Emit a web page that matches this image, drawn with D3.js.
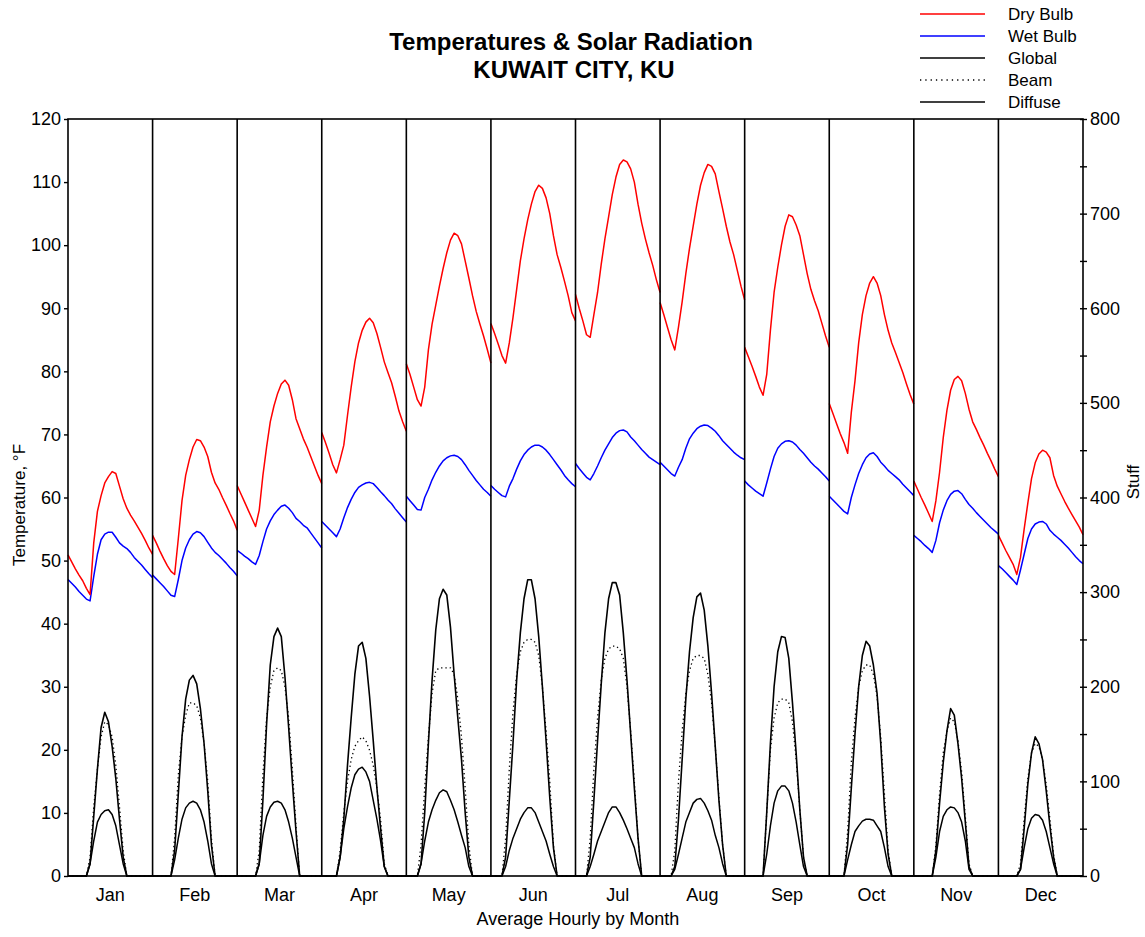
<!DOCTYPE html>
<html>
<head>
<meta charset="utf-8">
<script src="https://cdn.jsdelivr.net/npm/d3@7"></script>
<style>
  body { margin: 0; background: #fff; }
  text { font-family: "Liberation Sans", Arial, sans-serif; fill: #000; }
</style>
</head>
<body>
<svg id="chart" width="1145" height="937"></svg>
<script>
// Hourly averages (24 values per month, hour 1..24)
const months = ["Jan","Feb","Mar","Apr","May","Jun","Jul","Aug","Sep","Oct","Nov","Dec"];
const tempTicks = [0,10,20,30,40,50,60,70,80,90,100,110,120];
const stuffTicks = [0,50,100,150,200,250,300,350,400,450,500,550,600,650,700,750,800];

// Dry bulb temperature, °F
const dryBulb = [
  [50.9,49.8,48.7,47.7,46.8,45.6,44.6,52.8,57.8,60.3,62.3,63.3,64.1,63.8,61.8,59.8,58.3,57.2,56.3,55.3,54.3,53.2,52.0,51.0],
  [54.0,52.8,51.5,50.3,49.2,48.3,47.8,53.5,59.5,63.5,66.0,68.0,69.2,69.0,68.0,66.5,64.0,62.3,61.3,60.0,58.8,57.5,56.3,54.8],
  [61.9,60.6,59.3,58.0,56.7,55.4,58.0,63.5,68.0,72.0,74.5,76.5,78.0,78.6,77.8,75.5,72.5,70.9,69.3,68.0,66.5,65.0,63.5,62.2],
  [70.3,68.7,67.0,65.2,63.9,66.0,68.3,73.0,77.5,81.5,84.5,86.5,87.8,88.4,87.7,86.0,83.8,81.5,79.8,78.2,76.0,73.7,72.0,70.5],
  [81.2,79.5,77.5,75.5,74.5,77.5,83.4,87.5,90.5,93.5,96.3,98.8,100.8,101.9,101.5,100.2,97.5,94.8,92.0,89.5,87.5,85.6,83.5,81.3],
  [87.6,86.0,84.3,82.5,81.3,84.5,88.5,93.0,97.5,101.0,104.0,106.5,108.5,109.5,109.0,107.5,105.0,101.5,98.5,96.5,94.3,92.0,89.3,88.0],
  [92.2,90.0,88.0,85.8,85.4,89.0,92.5,97.0,101.0,104.5,108.0,110.8,112.8,113.5,113.2,112.1,110.0,106.5,103.5,101.0,98.8,96.8,94.5,92.5],
  [90.9,89.0,87.0,85.0,83.4,87.0,91.0,95.5,99.5,103.0,106.5,109.5,111.5,112.8,112.5,111.3,108.5,105.8,103.0,100.5,98.5,96.0,93.5,91.3],
  [83.8,82.3,80.8,79.2,77.5,76.2,79.5,86.5,92.5,96.5,100.0,103.0,104.8,104.5,103.2,101.5,98.5,95.5,93.0,91.2,89.6,87.6,85.6,83.8],
  [74.9,73.3,71.7,70.1,68.7,67.0,73.5,78.5,84.5,89.0,92.0,94.0,95.0,94.0,92.0,89.0,86.5,84.5,83.0,81.4,79.8,78.0,76.3,74.8],
  [62.6,61.3,60.0,58.8,57.5,56.2,59.5,64.0,69.5,73.8,77.0,78.7,79.2,78.5,76.5,74.0,72.0,70.8,69.5,68.3,67.0,65.8,64.5,63.3],
  [54.0,52.8,51.6,50.5,49.4,47.8,50.5,55.0,59.1,63.0,65.5,66.9,67.5,67.2,66.3,63.5,61.8,60.6,59.4,58.3,57.3,56.3,55.3,54.1]
];

// Wet bulb temperature, °F
const wetBulb = [
  [47.0,46.4,45.8,45.1,44.5,43.9,43.6,47.5,51.0,53.3,54.2,54.5,54.5,53.7,52.8,52.3,51.9,51.3,50.5,49.9,49.3,48.6,47.9,47.3],
  [47.7,47.1,46.5,45.9,45.2,44.5,44.3,47.0,50.0,52.0,53.3,54.2,54.6,54.4,53.8,52.9,52.0,51.3,50.8,50.2,49.6,48.9,48.3,47.6],
  [51.6,51.2,50.7,50.3,49.8,49.4,50.8,53.0,55.0,56.3,57.3,58.0,58.6,58.8,58.3,57.6,56.7,56.2,55.6,55.2,54.4,53.6,52.8,52.0],
  [56.2,55.6,55.0,54.4,53.8,55.0,56.8,58.4,59.7,60.8,61.6,62.0,62.3,62.4,62.2,61.6,60.9,60.3,59.6,59.0,58.2,57.5,56.8,56.1],
  [60.2,59.5,58.8,58.1,58.0,60.0,61.3,62.8,64.0,65.0,65.8,66.3,66.6,66.7,66.5,66.0,65.2,64.3,63.5,62.7,62.0,61.3,60.8,60.2],
  [61.9,61.3,60.8,60.3,60.1,61.8,63.0,64.5,65.8,66.8,67.5,68.0,68.3,68.3,68.0,67.5,66.8,66.0,65.2,64.4,63.5,62.8,62.2,61.7],
  [65.4,64.6,63.9,63.2,62.8,63.8,65.0,66.3,67.5,68.5,69.5,70.2,70.6,70.7,70.4,69.6,69.0,68.3,67.6,67.0,66.4,66.0,65.6,65.2],
  [65.6,65.0,64.4,63.8,63.4,64.8,66.0,67.8,69.3,70.2,70.9,71.3,71.5,71.4,71.0,70.5,69.8,69.0,68.4,67.8,67.2,66.7,66.3,66.0],
  [62.6,62.0,61.5,61.0,60.6,60.2,62.3,64.5,66.5,67.8,68.5,68.9,69.0,68.8,68.3,67.6,67.0,66.3,65.6,65.0,64.5,63.9,63.3,62.6],
  [60.2,59.6,59.0,58.4,57.8,57.4,60.0,62.0,63.8,65.2,66.3,66.9,67.1,66.5,65.6,65.0,64.3,63.8,63.3,62.8,62.1,61.5,60.9,60.3],
  [54.0,53.5,53.0,52.4,51.9,51.3,53.2,56.0,58.0,59.5,60.5,61.0,61.1,60.6,59.7,58.9,58.3,57.6,57.0,56.4,55.8,55.2,54.7,54.2],
  [49.2,48.7,48.1,47.5,46.9,46.2,48.5,51.0,53.5,55.0,55.8,56.1,56.2,55.8,54.8,54.2,53.7,53.2,52.6,52.0,51.3,50.6,50.0,49.5]
];

// Global horizontal radiation (right axis)
const globalRad = [
  [0,0,0,0,0,0,13,63,113,157,173,163,137,103,60,20,0,0,0,0,0,0,0,0],
  [0,0,0,0,0,0,27,87,147,187,207,212,203,177,140,90,33,0,0,0,0,0,0,0],
  [0,0,0,0,0,0,13,80,160,223,253,262,253,210,157,100,47,0,0,0,0,0,0,0],
  [0,0,0,0,0,20,60,117,167,213,243,247,230,190,143,93,50,10,0,0,0,0,0,0],
  [0,0,0,0,13,67,140,207,260,293,303,297,263,213,167,123,67,20,0,0,0,0,0,0],
  [0,0,0,0,20,80,140,207,257,293,313,313,293,253,200,143,83,30,0,0,0,0,0,0],
  [0,0,0,0,20,80,143,203,257,293,310,310,297,257,207,150,93,40,0,0,0,0,0,0],
  [0,0,0,0,10,60,123,187,237,273,295,299,281,243,193,137,80,33,0,0,0,0,0,0],
  [0,0,0,0,0,0,67,140,200,237,253,252,230,183,130,70,20,0,0,0,0,0,0,0],
  [0,0,0,0,0,33,93,150,200,233,248,243,223,193,140,73,23,0,0,0,0,0,0,0],
  [0,0,0,0,0,0,27,77,120,153,177,170,140,103,57,10,0,0,0,0,0,0,0,0],
  [0,0,0,0,0,0,7,50,97,130,147,140,123,90,53,20,0,0,0,0,0,0,0,0]
];

// Beam radiation (right axis)
const beamRad = [
  [0,0,0,0,0,0,20,73,113,147,163,160,147,117,73,27,0,0,0,0,0,0,0,0],
  [0,0,0,0,0,0,40,107,147,170,183,183,180,167,140,100,40,0,0,0,0,0,0,0],
  [0,0,0,0,0,0,27,107,167,200,217,220,217,200,167,113,53,0,0,0,0,0,0,0],
  [0,0,0,0,0,27,67,100,123,137,143,147,143,133,117,93,60,13,0,0,0,0,0,0],
  [0,0,0,0,33,93,147,193,217,220,220,220,220,213,187,147,93,33,0,0,0,0,0,0],
  [0,0,0,0,40,113,173,213,237,247,250,250,247,233,200,153,100,33,0,0,0,0,0,0],
  [0,0,0,0,40,113,167,207,230,240,243,243,240,230,200,153,100,40,0,0,0,0,0,0],
  [0,0,0,0,27,100,153,193,217,230,233,233,230,213,183,137,83,33,0,0,0,0,0,0],
  [0,0,0,0,0,0,67,133,167,183,187,187,183,163,123,70,20,0,0,0,0,0,0,0],
  [0,0,0,0,0,47,120,167,200,217,223,223,213,190,147,87,27,0,0,0,0,0,0,0],
  [0,0,0,0,0,0,33,87,130,153,167,163,143,110,63,13,0,0,0,0,0,0,0,0],
  [0,0,0,0,0,0,13,60,103,130,140,137,123,97,60,23,0,0,0,0,0,0,0,0]
];

// Diffuse radiation (right axis)
const diffuseRad = [
  [0,0,0,0,0,0,13,37,57,65,69,70,65,53,33,13,0,0,0,0,0,0,0,0],
  [0,0,0,0,0,0,17,40,60,72,77,79,77,70,57,37,13,0,0,0,0,0,0,0],
  [0,0,0,0,0,0,13,43,63,73,78,79,77,70,57,40,20,0,0,0,0,0,0,0],
  [0,0,0,0,0,20,50,73,93,107,113,115,110,100,80,60,37,10,0,0,0,0,0,0],
  [0,0,0,0,13,37,57,70,80,88,91,89,80,70,57,43,30,10,0,0,0,0,0,0],
  [0,0,0,0,10,27,40,50,60,67,72,72,67,57,47,37,23,10,0,0,0,0,0,0],
  [0,0,0,0,10,23,37,47,57,67,73,73,67,59,50,40,30,13,0,0,0,0,0,0],
  [0,0,0,0,7,23,40,57,67,77,81,82,77,69,59,43,30,13,0,0,0,0,0,0],
  [0,0,0,0,0,0,23,53,77,90,95,95,90,77,57,33,10,0,0,0,0,0,0,0],
  [0,0,0,0,0,17,33,47,53,58,60,60,59,53,47,30,10,0,0,0,0,0,0,0],
  [0,0,0,0,0,0,20,47,63,70,73,72,67,57,37,7,0,0,0,0,0,0,0,0],
  [0,0,0,0,0,0,7,30,50,61,65,64,59,47,30,13,0,0,0,0,0,0,0,0]
];

const svg = d3.select("#chart");
const plot = { left: 68, right: 1083, top: 119, bottom: 876 };
const fontFamily = '"Liberation Sans", Arial, sans-serif';

const x = d3.scaleLinear().domain([0, months.length]).range([plot.left, plot.right]);
const xMonth = d3.scaleBand().domain(months).range([plot.left, plot.right]);
const yTemp = d3.scaleLinear().domain([0, 120]).range([plot.bottom, plot.top]);
const yStuff = d3.scaleLinear().domain([0, 800]).range([plot.bottom, plot.top]);

// each month's 24 hours span its own panel
const hourX = (m, i) => x(m + i / 23);

function drawSeries(data, yScale, style) {
  const g = svg.append("g").attr("fill", "none")
    .attr("stroke", style.color)
    .attr("stroke-width", style.width)
    .attr("stroke-linejoin", "round");
  if (style.dash) g.attr("stroke-dasharray", style.dash);
  data.forEach((vals, m) => {
    const line = d3.line()
      .x((d, i) => hourX(m, i))
      .y(d => yScale(d));
    g.append("path").attr("d", line(vals));
  });
}

// solar radiation
drawSeries(diffuseRad, yStuff, { color: "#000", width: 1.5 });
drawSeries(beamRad, yStuff, { color: "#000", width: 1.3, dash: "1.3,3" });
drawSeries(globalRad, yStuff, { color: "#000", width: 1.6 });
// temperatures
drawSeries(wetBulb, yTemp, { color: "#0000ff", width: 1.5 });
drawSeries(dryBulb, yTemp, { color: "#ff0000", width: 1.5 });

// month panels
svg.append("g").selectAll("line")
  .data(d3.range(1, months.length))
  .join("line")
  .attr("x1", d => x(d)).attr("x2", d => x(d))
  .attr("y1", plot.top).attr("y2", plot.bottom)
  .attr("stroke", "#000").attr("stroke-width", 1.6);

svg.append("rect")
  .attr("x", plot.left).attr("y", plot.top)
  .attr("width", plot.right - plot.left).attr("height", plot.bottom - plot.top)
  .attr("fill", "none").attr("stroke", "#000").attr("stroke-width", 1.6);

// left temperature axis
const leftAxis = svg.append("g")
  .attr("transform", `translate(${plot.left},0)`)
  .call(d3.axisLeft(yTemp).tickValues(tempTicks).tickSize(4).tickPadding(3));
leftAxis.select(".domain").remove();
leftAxis.selectAll("line").attr("stroke-width", 1.4);
leftAxis.selectAll("text").attr("font-size", 18).style("font-family", fontFamily);

// right axis
const rightAxis = svg.append("g")
  .attr("transform", `translate(${plot.right},0)`)
  .call(d3.axisRight(yStuff).tickValues(stuffTicks)
    .tickFormat(d => d % 100 === 0 ? d : "").tickSize(4).tickPadding(3));
rightAxis.select(".domain").remove();
rightAxis.selectAll("line").attr("x1", -3).attr("stroke-width", 1.4);
rightAxis.selectAll("text").attr("font-size", 18).style("font-family", fontFamily);

// month labels
const bottomAxis = svg.append("g")
  .attr("transform", `translate(0,${plot.bottom})`)
  .call(d3.axisBottom(xMonth).tickSize(0).tickPadding(12));
bottomAxis.select(".domain").remove();
bottomAxis.selectAll("text").attr("font-size", 18).style("font-family", fontFamily);

// axis titles
svg.append("text")
  .attr("x", 578).attr("y", 925).attr("text-anchor", "middle")
  .attr("font-size", 18).text("Average Hourly by Month");

svg.append("text")
  .attr("transform", "translate(25,505) rotate(-90)")
  .attr("text-anchor", "middle").attr("font-size", 17)
  .text("Temperature, °F");

svg.append("text")
  .attr("transform", "translate(1139,482) rotate(-90)")
  .attr("text-anchor", "middle").attr("font-size", 17)
  .text("Stuff");

// title
svg.append("text")
  .attr("x", 571).attr("y", 50).attr("text-anchor", "middle")
  .attr("font-size", 24).attr("font-weight", "bold")
  .text("Temperatures & Solar Radiation");
svg.append("text")
  .attr("x", 574).attr("y", 78).attr("text-anchor", "middle")
  .attr("font-size", 24).attr("font-weight", "bold")
  .text("KUWAIT CITY, KU");

// legend
const legendItems = [
  { name: "Dry Bulb", color: "#ff0000" },
  { name: "Wet Bulb", color: "#0000ff" },
  { name: "Global", color: "#000" },
  { name: "Beam", color: "#000", dash: "1.3,4" },
  { name: "Diffuse", color: "#000" }
];
const legend = svg.append("g");
legendItems.forEach((item, k) => {
  const yy = 14 + k * 22;
  const ln = legend.append("line")
    .attr("x1", 920).attr("x2", 985).attr("y1", yy).attr("y2", yy)
    .attr("stroke", item.color).attr("stroke-width", 1.5);
  if (item.dash) ln.attr("stroke-dasharray", item.dash);
  legend.append("text")
    .attr("x", 1008).attr("y", yy + 6)
    .attr("font-size", 17).text(item.name);
});
</script>
</body>
</html>
